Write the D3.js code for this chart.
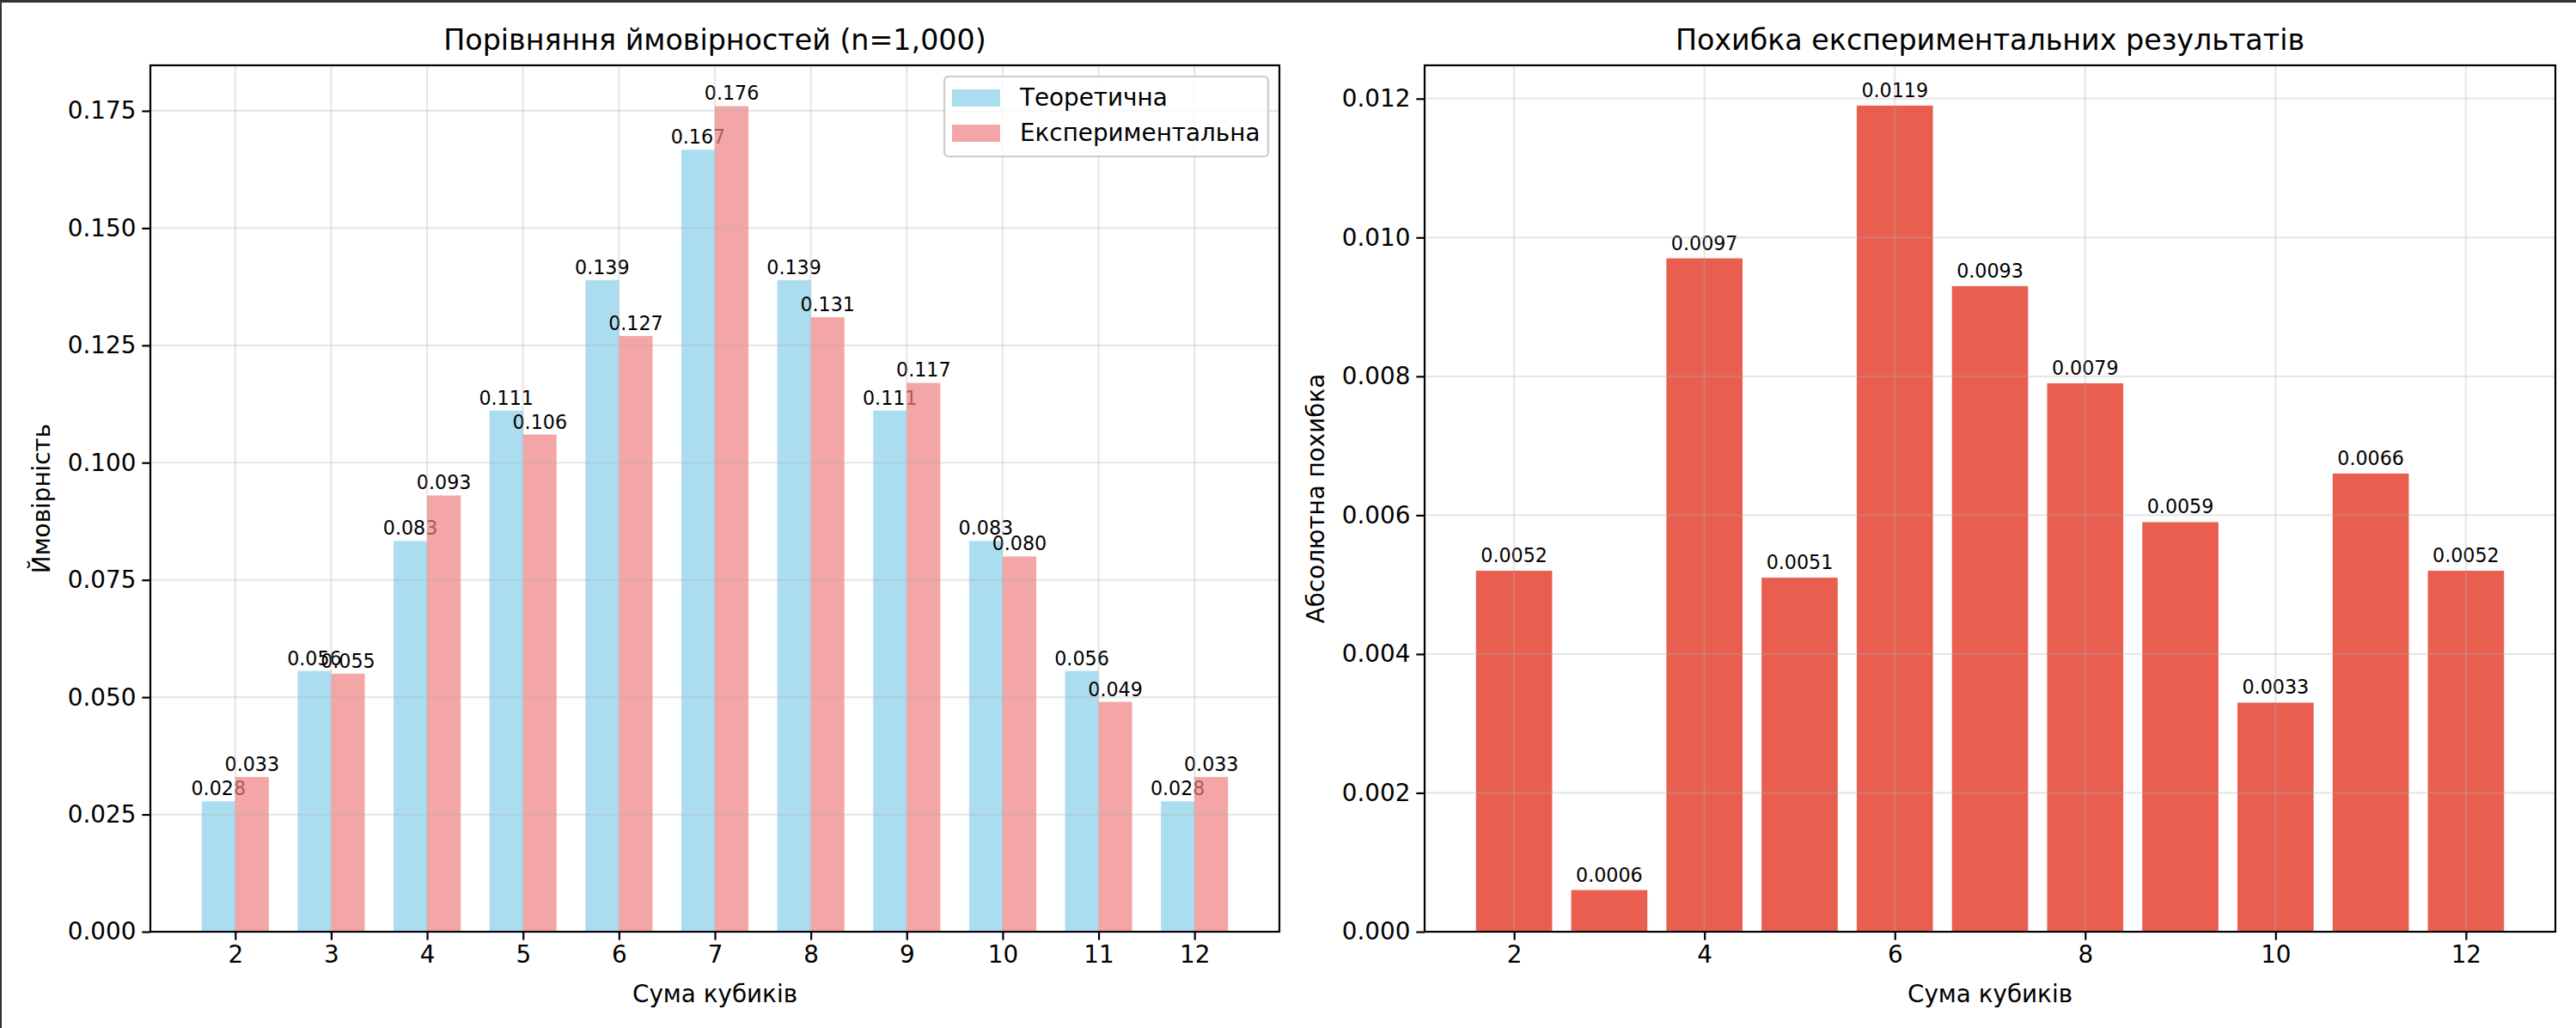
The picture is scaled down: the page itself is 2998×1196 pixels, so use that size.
<!DOCTYPE html>
<html><head><meta charset="utf-8">
<script src="https://cdn.jsdelivr.net/npm/d3@7"></script>
<style>body{margin:0;background:#fff}text{font-family:"DejaVu Sans",sans-serif}</style>
</head><body>
<script>
// Дані
const sums = [2, 3, 4, 5, 6, 7, 8, 9, 10, 11, 12];
const theoretical = [0.0278, 0.0556, 0.0833, 0.1111, 0.1389, 0.1667, 0.1389, 0.1111, 0.0833, 0.0556, 0.0278];
const experimental = [0.033, 0.055, 0.093, 0.106, 0.127, 0.176, 0.131, 0.117, 0.080, 0.049, 0.033];
const errors = [0.0052, 0.0006, 0.0097, 0.0051, 0.0119, 0.0093, 0.0079, 0.0059, 0.0033, 0.0066, 0.0052];
const leftTicks = [0, 0.025, 0.05, 0.075, 0.1, 0.125, 0.15, 0.175];
const rightTicks = [0, 0.002, 0.004, 0.006, 0.008, 0.010, 0.012];
const rightXTicks = [2, 4, 6, 8, 10, 12];

const W = 2998, H = 1196;
const svg = d3.select("body").append("svg").attr("width", W).attr("height", H);
svg.append("rect").attr("width", W).attr("height", H).attr("fill", "#fff");
svg.append("line").attr("x1", 0).attr("x2", W).attr("y1", 1.5).attr("y2", 1.5).attr("stroke", "#333").attr("stroke-width", 3);
svg.append("line").attr("x1", 1).attr("x2", 1).attr("y1", 0).attr("y2", H).attr("stroke", "#333").attr("stroke-width", 2);

const plotTop = 76, plotBottom = 1084;

function panel(x0, x1, xDomain, yDomain, yTicks, xTicks, yFmt, title, ylabel, ylabelX) {
  const g = svg.append("g");
  const x = d3.scaleLinear().domain(xDomain).range([x0, x1]);
  const y = d3.scaleLinear().domain(yDomain).range([plotBottom, plotTop]);
  const marks = g.append("g");
  // сітка (поверх стовпчиків)
  const gridTop = g.append("g");
  gridTop.selectAll(".gy").data(yTicks).join("line")
    .attr("x1", x0).attr("x2", x1).attr("y1", d => y(d)).attr("y2", d => y(d))
    .attr("stroke", "#b0b0b0").attr("stroke-opacity", 0.3).attr("stroke-width", 2.2);
  gridTop.selectAll(".gx").data(xTicks).join("line")
    .attr("x1", d => x(d)).attr("x2", d => x(d)).attr("y1", plotTop).attr("y2", plotBottom)
    .attr("stroke", "#b0b0b0").attr("stroke-opacity", 0.3).attr("stroke-width", 2.2);
  const ax = g.append("g").attr("transform", `translate(0,${plotBottom})`)
    .call(d3.axisBottom(x).tickValues(xTicks).tickFormat(d3.format("d")).tickSize(9.7).tickPadding(7));
  const ay = g.append("g").attr("transform", `translate(${x0},0)`)
    .call(d3.axisLeft(y).tickValues(yTicks).tickFormat(d3.format(yFmt)).tickSize(9.7).tickPadding(7));
  [ax, ay].forEach(a => {
    a.select(".domain").remove();
    a.selectAll("line").attr("stroke", "#000").attr("stroke-width", 2.2);
    a.selectAll("text").attr("font-size", 27.8).attr("fill", "#000");
  });
  g.append("rect").attr("x", x0).attr("y", plotTop).attr("width", x1 - x0).attr("height", plotBottom - plotTop)
    .attr("fill", "none").attr("stroke", "#000").attr("stroke-width", 2.2);
  g.append("text").attr("x", (x0 + x1) / 2).attr("y", 58).attr("text-anchor", "middle")
    .attr("font-size", 33.3).text(title);
  g.append("text").attr("x", (x0 + x1) / 2).attr("y", 1166).attr("text-anchor", "middle")
    .attr("font-size", 27.8).text("Сума кубиків");
  g.append("text").attr("transform", `translate(${ylabelX},${(plotTop + plotBottom) / 2}) rotate(-90)`)
    .attr("text-anchor", "middle").attr("font-size", 27.8).text(ylabel);
  return {x, y, marks};
}

// Ліва панель
const L = panel(175, 1489, [1.115, 12.885], [0, 0.1847], leftTicks, sums, ".3f",
  "Порівняння ймовірностей (n=1,000)", "Ймовірність", 58);
const bw = 0.35;
const series = [
  {vals: theoretical, off: -bw / 2, color: "#87CEEB"},
  {vals: experimental, off: bw / 2, color: "#F08080"}
];
series.forEach(s => {
  L.marks.selectAll(null).data(sums).join("rect")
    .attr("x", (d) => L.x(d + s.off - bw / 2))
    .attr("width", L.x(bw) - L.x(0))
    .attr("y", (d, i) => L.y(s.vals[i]))
    .attr("height", (d, i) => plotBottom - L.y(s.vals[i]))
    .attr("fill", s.color).attr("fill-opacity", 0.7);
  L.marks.selectAll(null).data(sums).join("text")
    .attr("x", d => L.x(d + s.off)).attr("y", (d, i) => L.y(s.vals[i]) - 7)
    .attr("text-anchor", "middle").attr("font-size", 22.2)
    .text((d, i) => s.vals[i].toFixed(3));
});
// Легенда
const lg = svg.append("g");
lg.append("rect").attr("x", 1099).attr("y", 89).attr("width", 377).attr("height", 93).attr("rx", 5)
  .attr("fill", "#fff").attr("fill-opacity", 0.8).attr("stroke", "#ccc").attr("stroke-width", 2.2);
["Теоретична", "Експериментальна"].forEach((t, i) => {
  lg.append("rect").attr("x", 1108).attr("y", 104 + i * 41).attr("width", 56).attr("height", 20)
    .attr("fill", series[i].color).attr("fill-opacity", 0.7);
  lg.append("text").attr("x", 1187).attr("y", 123 + i * 41).attr("font-size", 27.8).text(t);
});

// Права панель
const R = panel(1658, 2974, [1.06, 12.94], [0, 0.01248], rightTicks, rightXTicks, ".3f",
  "Похибка експериментальних результатів", "Абсолютна похибка", 1541);
R.marks.selectAll(null).data(sums).join("rect")
  .attr("x", d => R.x(d - 0.4)).attr("width", R.x(0.8) - R.x(0))
  .attr("y", (d, i) => R.y(errors[i])).attr("height", (d, i) => plotBottom - R.y(errors[i]))
  .attr("fill", "#e74c3c").attr("fill-opacity", 0.9);
R.marks.selectAll(null).data(sums).join("text")
  .attr("x", d => R.x(d)).attr("y", (d, i) => R.y(errors[i]) - 10)
  .attr("text-anchor", "middle").attr("font-size", 22.2)
  .text((d, i) => errors[i].toFixed(4));
</script>
</body></html>
